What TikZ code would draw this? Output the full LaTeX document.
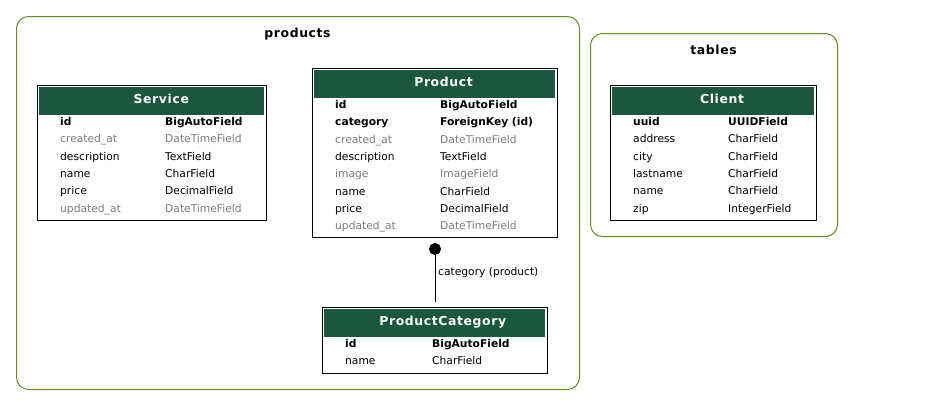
\documentclass[tikz,border=0pt]{standalone}
\usepackage{fontspec}
\setmainfont{DejaVu Sans}
\usetikzlibrary{arrows.meta}

\definecolor{headgreen}{HTML}{1B563F}
\definecolor{clustergreen}{HTML}{698B22}
\definecolor{autogray}{HTML}{7B7B7B}

\tikzset{
  cluster/.style={draw=clustergreen, line width=1pt, rounded corners=12pt, anchor=north west, inner sep=0pt},
  clusterlabel/.style={font=\fontsize{12.4}{14}\selectfont\bfseries\addfontfeature{LetterSpace=5}, anchor=base, inner sep=0pt},
  tablebox/.style={draw=black, line width=1pt, anchor=north west, inner sep=0pt},
  header/.style={fill=headgreen, anchor=north west, inner sep=0pt, minimum height=28pt},
  title/.style={text=white, font=\fontsize{12.4}{14}\selectfont\bfseries\addfontfeature{LetterSpace=5}, anchor=base, inner sep=0pt},
  pkfield/.style={font=\fontsize{10.7}{12}\selectfont\bfseries, anchor=base west, inner sep=0pt},
  field/.style={font=\fontsize{10.7}{12}\selectfont, anchor=base west, inner sep=0pt},
  autofield/.style={field, text=autogray},
  fk/.style={line width=1pt, {Circle[length=12pt,width=12pt]}-, shorten <=5pt, shorten >=5pt}
}

\begin{document}
\begin{tikzpicture}[x=1pt, y=-1pt]
    \useasboundingbox (0,0) rectangle (928,405);

    % clusters
    \node[cluster, minimum width=563pt, minimum height=373pt] (products) at (16,16) {};
    \node[clusterlabel] (products-label) at (297.5,37) {products};
    \node[cluster, minimum width=247pt, minimum height=203pt] (tables) at (590,33) {};
    \node[clusterlabel] (tables-label) at (713.5,54) {tables};

    % Service
    \node[tablebox, minimum width=229pt, minimum height=135pt] (service) at (37,85) {};
    \node[header, minimum width=225pt] (service-head) at (39,87) {};
    \node[title] (service-title) at (161.3,103) {Service};
    \foreach \f/\t/\s [count=\i from 0] in {id/BigAutoField/pkfield, created\_at/DateTimeField/autofield, description/TextField/field, name/CharField/field, price/DecimalField/field, updated\_at/DateTimeField/autofield} {
        \node[\s] (service-n\i) at (60,{125.5+17.3*\i}) {\f};
        \node[\s] (service-t\i) at (165,{125.5+17.3*\i}) {\t};
    }

    % Product
    \node[tablebox, minimum width=245pt, minimum height=169pt] (product) at (312,68) {};
    \node[header, minimum width=241pt] (product-head) at (314,70) {};
    \node[title] (product-title) at (443.5,86) {Product};
    \foreach \f/\t/\s [count=\i from 0] in {id/BigAutoField/pkfield, category/ForeignKey (id)/pkfield, created\_at/DateTimeField/autofield, description/TextField/field, image/ImageField/autofield, name/CharField/field, price/DecimalField/field, updated\_at/DateTimeField/autofield} {
        \node[\s] (product-n\i) at (335,{108.5+17.3*\i}) {\f};
        \node[\s] (product-t\i) at (440,{108.5+17.3*\i}) {\t};
    }

    % ProductCategory
    \node[tablebox, minimum width=225pt, minimum height=66pt] (productcategory) at (322,307) {};
    \node[header, minimum width=221pt] (productcategory-head) at (324,309) {};
    \node[title] (productcategory-title) at (442.7,325) {ProductCategory};
    \foreach \f/\t/\s [count=\i from 0] in {id/BigAutoField/pkfield, name/CharField/field} {
        \node[\s] (productcategory-n\i) at (345,{347.5+17.3*\i}) {\f};
        \node[\s] (productcategory-t\i) at (432,{347.5+17.3*\i}) {\t};
    }

    % Client
    \node[tablebox, minimum width=206pt, minimum height=135pt] (client) at (610,85) {};
    \node[header, minimum width=202pt] (client-head) at (612,87) {};
    \node[title] (client-title) at (722,103) {Client};
    \foreach \f/\t/\s [count=\i from 0] in {uuid/UUIDField/pkfield, address/CharField/field, city/CharField/field, lastname/CharField/field, name/CharField/field, zip/IntegerField/field} {
        \node[\s] (client-n\i) at (633,{125.5+17.3*\i}) {\f};
        \node[\s] (client-t\i) at (728,{125.5+17.3*\i}) {\t};
    }

    % relation
    \draw[fk] (product.south) -- (productcategory.north);
    \node[field] (fk-label) at (438,275) {category (product)};
\end{tikzpicture}
\end{document}
